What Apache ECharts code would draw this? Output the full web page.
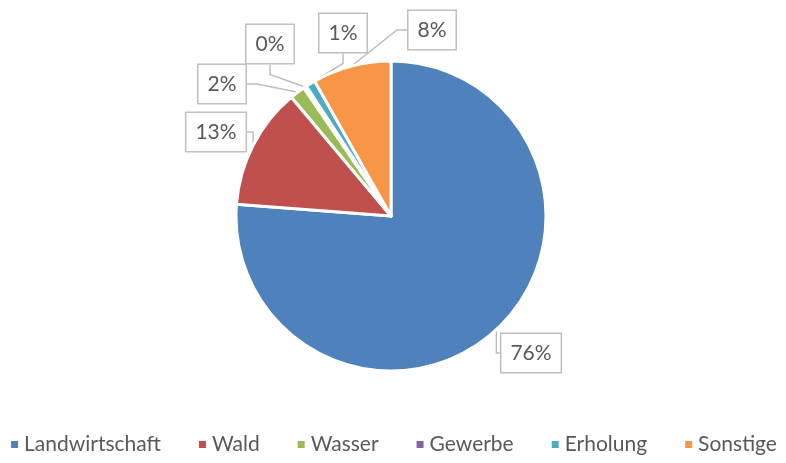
<!DOCTYPE html>
<html>
<head>
<meta charset="utf-8">
<script src="https://cdn.jsdelivr.net/npm/echarts@6/dist/echarts.min.js"></script>
<style>
  html, body { margin: 0; padding: 0; background: #fff; }
  #chart { width: 786px; height: 463px; }
</style>
</head>
<body>
<div id="chart"></div>
<script>
  // Flächennutzung
  var categories = ['Landwirtschaft', 'Wald', 'Wasser', 'Gewerbe', 'Erholung', 'Sonstige'];
  var shares = [76.2, 12.7, 1.6, 0.3, 1.0, 8.2];
  var colors = ['#4F81BD', '#C0504D', '#9BBB59', '#8064A2', '#4BACC6', '#F79646'];

  // label box centres, by slice
  var labelPos = [[531, 353], [216, 132], [222, 84], [270, 44], [343, 33], [432, 30]];

  var chart = echarts.init(document.getElementById('chart'));

  var pieData = categories.map(function (name, i) {
      return { name: name, value: shares[i], itemStyle: { color: colors[i] } };
  });

  var option = {
      animation: false,
      textStyle: { fontFamily: 'Lato' },
      legend: {
          bottom: 3,
          left: 'center',
          icon: 'rect',
          itemWidth: 9,
          itemHeight: 9,
          itemGap: 36,
          textStyle: { fontSize: 21, color: '#595959', fontFamily: 'Lato' },
          data: categories
      },
      series: [{
          type: 'pie',
          center: [391, 216],
          radius: 155,
          startAngle: 90,
          clockwise: true,
          itemStyle: { borderColor: '#fff', borderWidth: 3 },
          label: {
              show: true,
              formatter: function (p) { return Math.round(p.value) + '%'; },
              fontSize: 21,
              color: '#595959',
              fontFamily: 'Lato',
              backgroundColor: '#fff',
              borderColor: '#BFBFBF',
              borderWidth: 1.5,
              padding: [9, 9, 8, 9]
          },
          labelLine: {
              show: true,
              length: 10,
              length2: 10,
              lineStyle: { color: '#BFBFBF', width: 1.5 }
          },
          labelLayout: function (params) {
              var p = labelPos[params.dataIndex];
              return { x: p[0], y: p[1], align: 'center', verticalAlign: 'middle' };
          },
          data: pieData
      }]
  };

  chart.setOption(option);
</script>
</body>
</html>
